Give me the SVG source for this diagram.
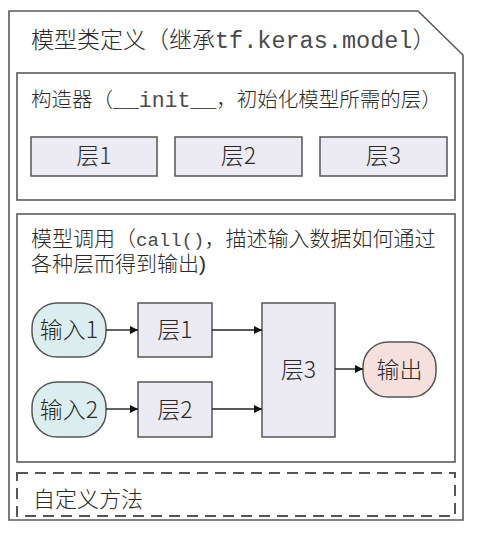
<svg xmlns="http://www.w3.org/2000/svg" width="480" height="536" viewBox="0 0 480 536">
<style>
.frame{fill:#fff;stroke:#5a5a5a;stroke-width:1.6}
.panel{fill:#fff;stroke:#5a5a5a;stroke-width:1.6}
.dash{fill:none;stroke:#555;stroke-width:2;stroke-dasharray:11 7}
.layer{fill:#ecebf3;stroke:#555;stroke-width:1.5}
.inp{fill:#dcedf0;stroke:#555;stroke-width:1.5}
.out{fill:#f6e0dd;stroke:#555;stroke-width:1.5}
.t{font-family:"Noto Sans CJK SC","Liberation Sans",sans-serif;font-weight:300;fill:#2a2a2a}
.ts{font-family:"Liberation Sans","Noto Sans CJK SC",sans-serif;font-weight:300;fill:#2a2a2a}
.m{font-family:"Liberation Mono","DejaVu Sans Mono",monospace;font-weight:400;fill:#4a4a4a}
.lbl{font-size:23px;text-anchor:middle}
.con{stroke:#222;stroke-width:1.4;fill:none;marker-end:url(#ah)}
</style>
<defs>
<marker id="ah" viewBox="0 0 10 10" refX="10" refY="5" markerWidth="8" markerHeight="8" orient="auto" markerUnits="userSpaceOnUse">
<path d="M0,0 L10,5 L0,10 z" fill="#111"/>
</marker>
</defs>
<rect width="480" height="536" fill="#fff"/>
<g id="model-class">
<polygon class="frame" points="9,11 418,11 463,55 463,520 9,520"/>
<text class="t" font-size="23" x="31" y="48">模型类定义（继承<tspan class="m" font-size="23.5">tf.keras.model</tspan>）</text>
</g>
<g id="constructor">
<rect class="panel" x="17" y="73" width="438" height="127"/>
<text class="t" font-size="20.5" x="31" y="107">构造器（<tspan class="m" font-size="21.5">__init__</tspan>，初始化模型所需的层）</text>
</g>
<g id="c-layer1"><rect class="layer" x="31" y="137" width="126" height="39"/><text class="t lbl" x="94" y="164">层1</text></g>
<g id="c-layer2"><rect class="layer" x="175" y="137" width="127" height="39"/><text class="t lbl" x="238.5" y="164">层2</text></g>
<g id="c-layer3"><rect class="layer" x="320" y="137" width="127" height="39"/><text class="t lbl" x="383.5" y="164">层3</text></g>
<g id="call">
<rect class="panel" x="17" y="214" width="438" height="248"/>
<text class="ts" font-size="21" x="31" y="246">模型调用（<tspan class="m" font-size="19">call()</tspan>，描述输入数据如何通过</text>
<text class="ts" font-size="21" x="31" y="271">各种层而得到输出)</text>
</g>
<g id="input1"><rect class="inp" x="32" y="303" width="74" height="54" rx="25"/><text class="t lbl" x="69" y="338">输入1</text></g>
<g id="input2"><rect class="inp" x="32" y="382" width="74" height="55" rx="25"/><text class="t lbl" x="69" y="418">输入2</text></g>
<g id="layer1"><rect class="layer" x="138" y="303" width="74" height="54"/><text class="t lbl" x="175" y="338">层1</text></g>
<g id="layer2"><rect class="layer" x="138" y="382" width="74" height="55"/><text class="t lbl" x="175" y="418">层2</text></g>
<g id="layer3"><rect class="layer" x="262" y="303" width="73" height="134"/><text class="t lbl" x="298.5" y="378">层3</text></g>
<g id="output"><rect class="out" x="363" y="342" width="73" height="55" rx="25"/><text class="t lbl" x="399.5" y="378">输出</text></g>
<g id="connectors">
<line class="con" x1="106" y1="330" x2="138" y2="330"/>
<line class="con" x1="106" y1="409" x2="138" y2="409"/>
<line class="con" x1="212" y1="330" x2="262" y2="330"/>
<line class="con" x1="212" y1="409" x2="262" y2="409"/>
<line class="con" x1="335" y1="369" x2="363" y2="369"/>
</g>
<g id="custom-methods">
<rect class="dash" x="17" y="473" width="438" height="43"/>
<text class="t" font-size="22" x="33" y="507">自定义方法</text>
</g>
</svg>
